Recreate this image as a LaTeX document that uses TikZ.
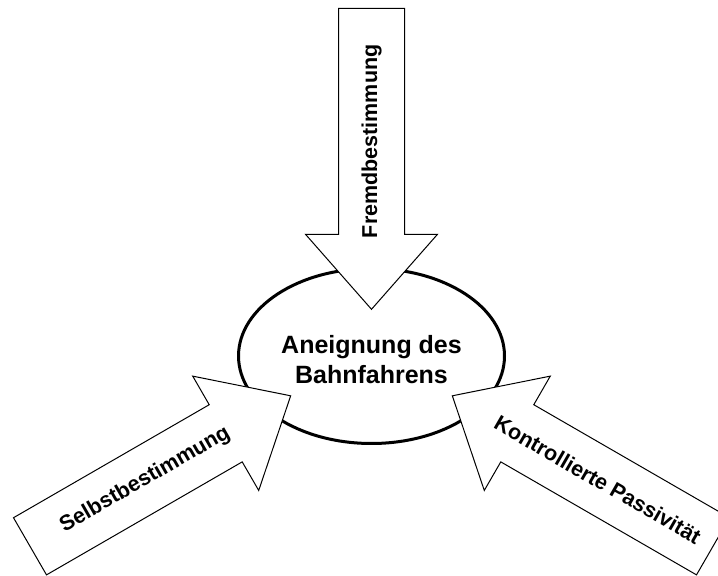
\documentclass[tikz,border=0pt]{standalone}
\usepackage{fontspec}
\setmainfont{Liberation Sans}
\usetikzlibrary{shapes.geometric}
\begin{document}
\begin{tikzpicture}[x=1pt,y=1pt,
  arrowline/.style={draw=black,fill=white,line width=1pt,line join=miter},
  bigarrow/.pic={\path[arrowline] (0,-33) -- (226,-33) -- (226,-66) -- (301,0) -- (226,66) -- (226,33) -- (0,33) -- cycle;},
  ovalstyle/.style={draw=black,line width=3pt,ellipse,minimum width=266pt,minimum height=175pt,inner sep=0pt},
  centertext/.style={font=\bfseries\fontsize{25}{30.6}\selectfont,align=center,inner sep=0pt},
  arrowtext/.style={font=\bfseries\fontsize{21.5}{25}\selectfont,inner sep=0pt}]
\fill[white] (0,0) rectangle (718,576);
\clip (0,0) rectangle (718,576);
\node[ovalstyle] (oval) at (371.5,220) {};
\pic (top) at (371.5,567.7) [rotate=-90] {bigarrow};
\pic (left) at (30,29.7) [rotate=30] {bigarrow};
\pic (right) at (713,29.7) [rotate=150] {bigarrow};
\node[centertext] (title) at (371.5,216.6) {Aneignung des\\Bahnfahrens};
\node[arrowtext,rotate=90] (fremd) at (371.5,434.7) {Fremdbestimmung};
\node[arrowtext,rotate=30] (selbst) at (145.2,96.2) {Selbstbestimmung};
\node[arrowtext,rotate=-30] (kontr) at (597.8,96.2) {Kontrollierte Passivität};
\end{tikzpicture}
\end{document}
